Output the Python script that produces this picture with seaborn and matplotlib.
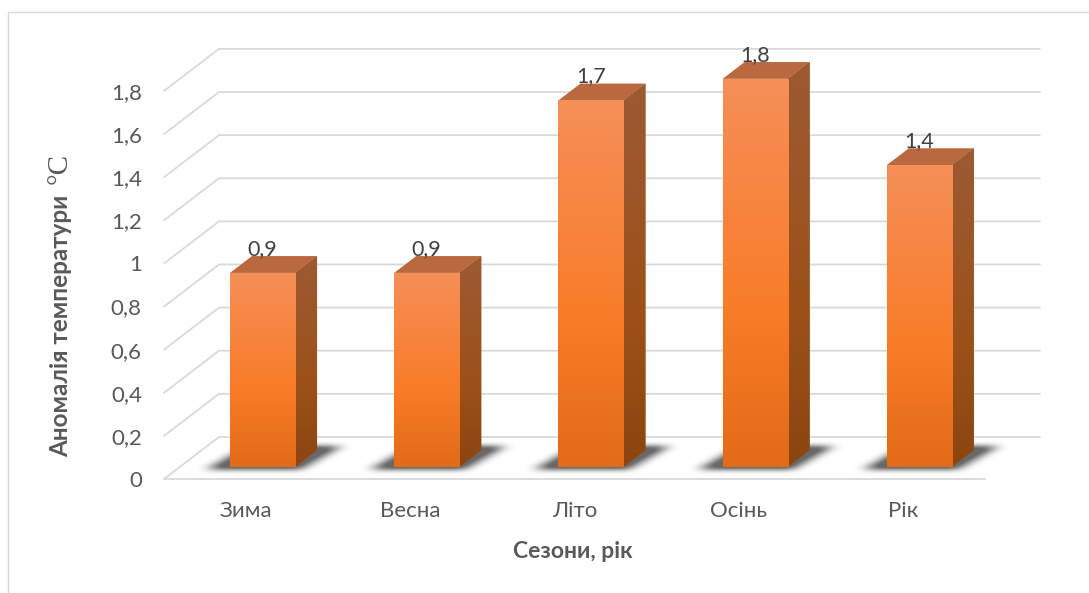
import numpy as np
import pandas as pd
import matplotlib
matplotlib.use("Agg")
import matplotlib.pyplot as plt
import seaborn as sns
from matplotlib.colors import LinearSegmentedColormap
from matplotlib.lines import Line2D
from matplotlib.patches import Polygon

seasons = ["Зима", "Весна", "Літо", "Осінь", "Рік"]
anomalies = [0.9, 0.9, 1.7, 1.8, 1.4]
tick_values = [0, 0.2, 0.4, 0.6, 0.8, 1, 1.2, 1.4, 1.6, 1.8]
tick_labels = ["0", "0,2", "0,4", "0,6", "0,8", "1", "1,2", "1,4", "1,6", "1,8"]
value_labels = ["0,9", "0,9", "1,7", "1,8", "1,4"]

sns.set_theme(style="white")
plt.rcParams["font.family"] = ["Lato", "DejaVu Sans"]

GRID = "#D9D9D9"
TEXT = "#595959"
WIDTH, HEIGHT = 1089, 593
UNIT_PX = 215.6
VIEW_TOP = 2.05

fig = plt.figure(figsize=(WIDTH / 100, HEIGHT / 100), dpi=100)
ax_height = VIEW_TOP * UNIT_PX
ax = fig.add_axes([164 / WIDTH, 1 - 479 / HEIGHT, 821 / WIDTH, ax_height / HEIGHT])

# Depth of the floor in data units, and where the bars stand on it.
wall_dx, wall_dy = 0.335, 0.195
bar_width = 0.396
bar_dx, bar_dy = 0.100, 0.056
side_dx, side_dy = 0.134, 0.078

frame = pd.DataFrame({"season": seasons, "anomaly": anomalies})
sns.barplot(data=frame, x="season", y="anomaly", order=seasons, width=bar_width,
            color="#F97C26", saturation=1, ax=ax, zorder=4, linewidth=0)
sns.despine(ax=ax, left=True, bottom=True)


def gradient_fill(patch, stops, x0, x1, y0, y1, z):
    cmap = LinearSegmentedColormap.from_list("face", stops)
    shade = np.linspace(0, 1, 256).reshape(-1, 1)
    img = ax.imshow(shade, cmap=cmap, extent=(x0, x1, y0, y1), origin="upper",
                    aspect="auto", zorder=z, interpolation="bilinear")
    img.set_clip_path(patch)


def floor_shadow(x0, x1, y0, z):
    """Blurred parallelogram on the floor, darkest along the column's base."""
    left, right = x0 - 0.30, x1 + 0.42
    bottom, top = y0 - 0.05, y0 + 0.17
    nx, ny = 280, 90
    xs = np.linspace(left, right, nx)
    ys = np.linspace(bottom, top, ny)
    gx, gy = np.meshgrid(xs, ys)
    t = (gy - (y0 - 0.012)) / 0.108
    lo = x0 - 0.145 + t * 0.25
    hi = x1 + 0.025 + t * 0.25
    mask = ((gx >= lo) & (gx <= hi) & (t >= 0) & (t <= 1)).astype(float)
    kernel_x = np.ones(23) / 23
    kernel_y = np.ones(11) / 11
    for _ in range(2):
        mask = np.apply_along_axis(lambda r: np.convolve(r, kernel_x, mode="same"), 1, mask)
        mask = np.apply_along_axis(lambda c: np.convolve(c, kernel_y, mode="same"), 0, mask)
    rgba = np.zeros((ny, nx, 4))
    rgba[..., :3] = 0.26
    rgba[..., 3] = np.clip(mask, 0, 0.8)
    ax.imshow(rgba, extent=(left, right, bottom, top), origin="lower", aspect="auto",
              zorder=z, interpolation="bilinear", clip_on=False)


# Floor and back wall.
for v in tick_values:
    ax.plot([-0.5, -0.5 + wall_dx, 4.5 + wall_dx],
            [v, v + wall_dy, v + wall_dy],
            color=GRID, lw=1.3, clip_on=False, zorder=1, solid_joinstyle="miter")
ax.plot([-0.5, 4.5], [0, 0], color=GRID, lw=1.3, clip_on=False, zorder=1)

front_stops = [(0.0, "#F58F58"), (0.6, "#F97C28"), (1.0, "#E36A17")]
side_stops = [(0.0, "#9C5A34"), (0.6, "#9C5119"), (1.0, "#8C4510")]

for bar, value, label in zip(list(ax.patches), anomalies, value_labels):
    x0 = bar.get_x() + bar_dx
    x1 = x0 + bar_width
    y0 = bar_dy
    y1 = bar_dy + value
    bar.set_x(x0)
    bar.set_y(y0)

    floor_shadow(x0, x1, y0, 2)

    # Right side and top of the column.
    side = Polygon([(x1, y0), (x1 + side_dx, y0 + side_dy),
                    (x1 + side_dx, y1 + side_dy), (x1, y1)],
                   closed=True, fc="#9C5119", ec="none", zorder=4, clip_on=False)
    ax.add_patch(side)
    gradient_fill(side, side_stops, x1, x1 + side_dx, y0, y1 + side_dy, 4.1)
    ax.add_patch(Polygon([(x0, y1), (x1, y1), (x1 + side_dx, y1 + side_dy),
                          (x0 + side_dx, y1 + side_dy)],
                         closed=True, fc="#B9693D", ec="none", zorder=4.2, clip_on=False))
    gradient_fill(bar, front_stops, x0, x1, y0, y1, 4.3)

    ax.text((x0 + x1) / 2, y1 + 0.112, label, ha="center", va="center",
            fontsize=15.5, color="#404040", zorder=6)

ax.set_xlim(-0.5, 4.5)
ax.set_ylim(0, VIEW_TOP)

ax.set_yticks(tick_values, tick_labels)
ax.tick_params(axis="y", length=0, pad=16, labelsize=16, labelcolor=TEXT)
ax.tick_params(axis="x", length=0, pad=15.5, labelsize=16, labelcolor=TEXT)

ax.set_xlabel("Сезони, рік", fontsize=16.5, fontweight="bold", color=TEXT, va="center")
ax.xaxis.set_label_coords(0.498, -72 / ax_height)
ax.set_ylabel("Аномалія температури", fontsize=17.5, fontweight="bold", color=TEXT, va="center")
ax.yaxis.set_label_coords(-0.1255, 153 / ax_height)

# The degree unit sits at the end of the axis title in a serif face.
ax.text(-0.1255 - 1 / 821, 311 / ax_height, "°C", rotation=90, ha="center", va="center",
        family="Liberation Serif", fontsize=21, color=TEXT, transform=ax.transAxes)

# Chart-area outline along the top and left.
fig.add_artist(Line2D([8 / WIDTH, 8 / WIDTH, 1], [0, 1 - 12 / HEIGHT, 1 - 12 / HEIGHT],
                      color=GRID, lw=1.0, transform=fig.transFigure))

fig.savefig("out.png", dpi=100)
